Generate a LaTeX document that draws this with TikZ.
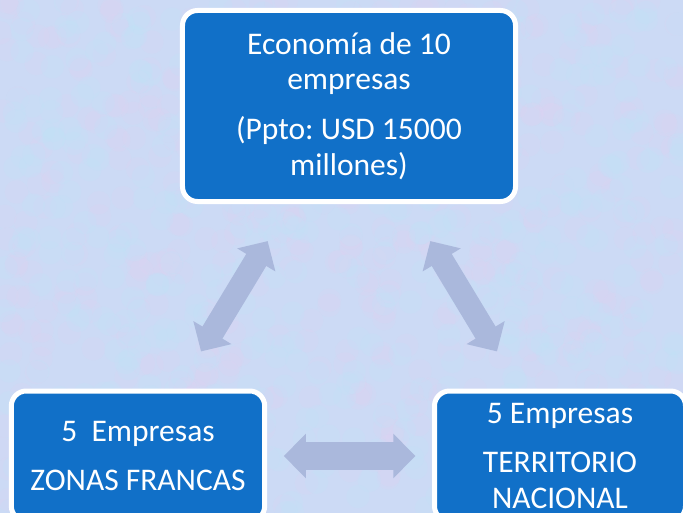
\documentclass[tikz,border=0pt]{standalone}
\usepackage{fontspec}
\setmainfont{Carlito}
\usetikzlibrary{arrows.meta}

\definecolor{boxblue}{RGB}{17,112,200}
\definecolor{arrowgray}{RGB}{170,184,220}
\definecolor{paper}{RGB}{204,218,245}
\definecolor{pinkish}{RGB}{226,210,242}
\definecolor{cyanish}{RGB}{190,230,250}

\begin{document}
\begin{tikzpicture}[x=0.03cm,y=-0.03cm]

	\tikzstyle{e-box}=[rectangle,rounded corners=0.45cm,fill=boxblue,draw=white,line width=0.15cm,
		inner sep=0pt,text=white,align=center,font=\fontsize{26.9}{30.5}\selectfont\frenchspacing]
	\tikzstyle{link}=[draw=arrowgray,line width=0.7cm,
		{Triangle[width=1.3cm,length=0.66cm]}-{Triangle[width=1.3cm,length=0.66cm]}]

	% background
	\useasboundingbox (0,0) rectangle (683,513);
	\fill[paper] (0,0) rectangle (683,513);
	\pgfmathsetseed{11}
	\foreach \i in {1,...,500}{
		\pgfmathsetmacro{\bx}{683*rnd}
		\pgfmathsetmacro{\by}{513*rnd}
		\fill[pinkish,opacity=0.18] (\bx,\by) circle (0.35cm);
	}
	\foreach \i in {1,...,500}{
		\pgfmathsetmacro{\bx}{683*rnd}
		\pgfmathsetmacro{\by}{513*rnd}
		\fill[cyanish,opacity=0.18] (\bx,\by) circle (0.35cm);
	}

	% boxes
	\node[e-box,minimum width=9.99cm,minimum height=5.73cm] (econ) at (349,106)
		{Economía de 10\\empresas\\[12pt](Ppto: USD 15000\\millones)};
	\node[e-box,minimum width=7.6cm,minimum height=3.9cm] (zonas) at (138,456)
		{5\ \ Empresas\\[12pt]ZONAS FRANCAS};
	\node[e-box,minimum width=7.53cm,minimum height=3.9cm] (terr) at (560,456)
		{5 Empresas\\[11pt]TERRITORIO\\NACIONAL};

	% arrows
	\draw[link,shorten <=1.3cm,shorten >=1.3cm] (econ) -- (zonas);
	\draw[link,shorten <=1.3cm,shorten >=1.3cm] (econ) -- (terr);
	\draw[link,line width=0.84cm,shorten <=0.5cm,shorten >=0.5cm] (zonas) -- (terr);
\end{tikzpicture}
\end{document}
